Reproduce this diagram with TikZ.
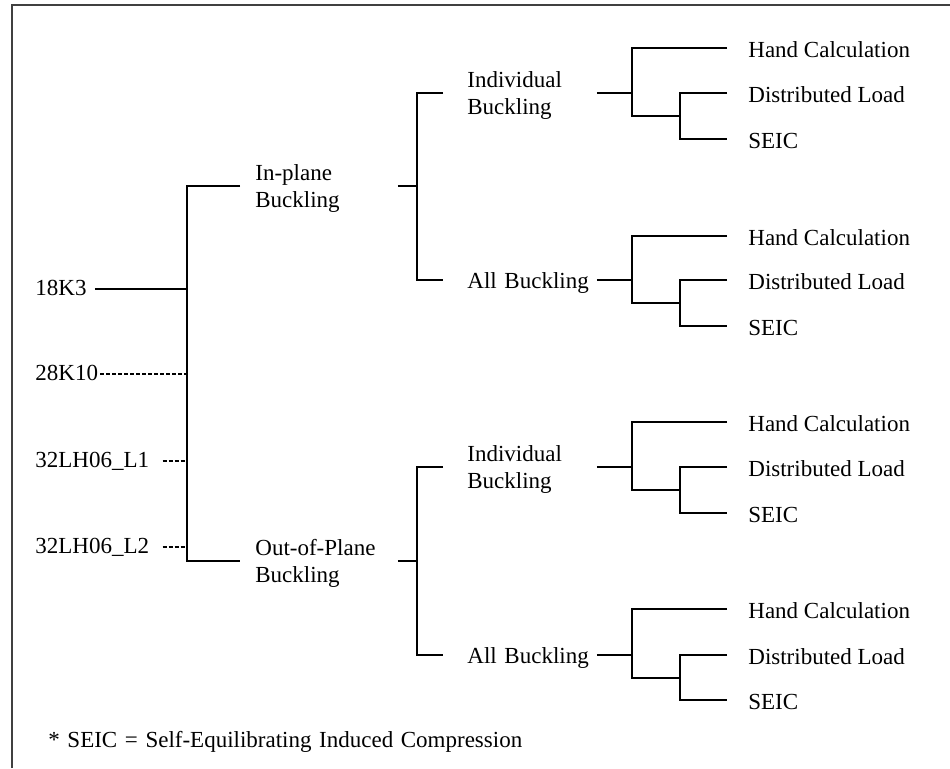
\documentclass[tikz,border=0pt]{standalone}
\usepackage{fontspec}
\setmainfont{Liberation Serif}
\usepackage{tikz}
\usetikzlibrary{positioning}
\newcommand{\widespaces}{\spaceskip 3.8pt plus 1pt minus 1pt\relax}

\begin{document}
\begin{tikzpicture}[
    x=0.5pt, y=-0.5pt,
    key_label/.style={
      anchor=west, inner sep=0pt, font=\fontsize{11.5}{14}\selectfont,
      text height=8pt, text depth=2pt
    },
    branch1/.style={
      anchor=west, inner sep=0pt, font=\fontsize{11.5}{13.5}\selectfont,
      align=left, text width=71pt,
      execute at begin node={\rule{0pt}{10.5pt}}
    },
    branch2/.style={
      branch1, text width=64.5pt
    },
    leaf/.style={
      key_label, text height=9.5pt, text depth=0.5pt
    },
    tree_line/.style={
      line width=0.7pt
    },
    dash_line/.style={
      line width=0.7pt, dash pattern=on 2pt off 1pt
    }
  ]
  \useasboundingbox (0,0) rectangle (950,768);

  % --- frame (only left and top edges show) ---
  \draw[line width=0.8pt, black!75] (12,768) -- (12,5) -- (950,5);

  % --- Joists ---
  \node[key_label] (k3)  at (35,289) {18K3};
  \node[key_label] (k10) at (35,374) {28K10};
  \node[key_label] (l1)  at (35,461) {32LH06\_L1};
  \node[key_label] (l2)  at (35,547) {32LH06\_L2};
  \coordinate (rb) at (187,374);

  \draw[tree_line] ([xshift=4pt]k3.east) -- (k3.east -| rb);
  \draw[dash_line] ([xshift=1pt]k10.east) -- (k10.east -| rb);
  \draw[dash_line] ([xshift=6.5pt]l1.east) -- (l1.east -| rb);
  \draw[dash_line] ([xshift=6.5pt]l2.east) -- (l2.east -| rb);

  % --- Buckling mode ---
  \node[branch1] (inp) at (255,186) {In-plane\\Buckling};
  \node[branch1] (oop) at (255,561) {Out-of-Plane\\Buckling};

  \draw[tree_line] ([xshift=-7.5pt]inp.west) -| (rb) |- ([xshift=-7.5pt]oop.west);

  % --- Buckling type ---
  \node[branch2] (ib1) at (467,93)  {Individual\\Buckling};
  \node[branch2] (ab1) at (467,280) {All Buckling};
  \node[branch2] (ib2) at (467,467) {Individual\\Buckling};
  \node[branch2] (ab2) at (467,655) {All Buckling};

  \draw[tree_line] (inp.east) -- ([xshift=9.5pt]inp.east);
  \draw[tree_line] ([xshift=-12pt]ib1.west) -| ([xshift=9.5pt]inp.east)
    |- ([xshift=-12pt]ab1.west);
  \draw[tree_line] (oop.east) -- ([xshift=9.5pt]oop.east);
  \draw[tree_line] ([xshift=-12pt]ib2.west) -| ([xshift=9.5pt]oop.east)
    |- ([xshift=-12pt]ab2.west);

  % --- Methods: In-plane, Individual ---
  \node[leaf] (hc1) at (748,48)  {Hand Calculation};
  \node[leaf] (dl1) at (748,93)  {Distributed Load};
  \node[leaf] (se1) at (748,139) {SEIC};
  \coordinate (sj1) at (680,116);
  \draw[tree_line] (ib1.east) -- ([xshift=17.5pt]ib1.east);
  \draw[tree_line] ([xshift=-10.5pt]hc1.west) -| ([xshift=17.5pt]ib1.east) |- (sj1);
  \draw[tree_line] ([xshift=-10.5pt]dl1.west) -| (sj1) |- ([xshift=-10.5pt]se1.west);

  % --- Methods: In-plane, All ---
  \node[leaf] (hc2) at (748,236) {Hand Calculation};
  \node[leaf] (dl2) at (748,280) {Distributed Load};
  \node[leaf] (se2) at (748,326) {SEIC};
  \coordinate (sj2) at (680,303);
  \draw[tree_line] (ab1.east) -- ([xshift=17.5pt]ab1.east);
  \draw[tree_line] ([xshift=-10.5pt]hc2.west) -| ([xshift=17.5pt]ab1.east) |- (sj2);
  \draw[tree_line] ([xshift=-10.5pt]dl2.west) -| (sj2) |- ([xshift=-10.5pt]se2.west);

  % --- Methods: Out-of-plane, Individual ---
  \node[leaf] (hc3) at (748,422) {Hand Calculation};
  \node[leaf] (dl3) at (748,467) {Distributed Load};
  \node[leaf] (se3) at (748,513) {SEIC};
  \coordinate (sj3) at (680,490);
  \draw[tree_line] (ib2.east) -- ([xshift=17.5pt]ib2.east);
  \draw[tree_line] ([xshift=-10.5pt]hc3.west) -| ([xshift=17.5pt]ib2.east) |- (sj3);
  \draw[tree_line] ([xshift=-10.5pt]dl3.west) -| (sj3) |- ([xshift=-10.5pt]se3.west);

  % --- Methods: Out-of-plane, All ---
  \node[leaf] (hc4) at (748,609) {Hand Calculation};
  \node[leaf] (dl4) at (748,655) {Distributed Load};
  \node[leaf] (se4) at (748,700) {SEIC};
  \coordinate (sj4) at (680,678);
  \draw[tree_line] (ab2.east) -- ([xshift=17.5pt]ab2.east);
  \draw[tree_line] ([xshift=-10.5pt]hc4.west) -| ([xshift=17.5pt]ab2.east) |- (sj4);
  \draw[tree_line] ([xshift=-10.5pt]dl4.west) -| (sj4) |- ([xshift=-10.5pt]se4.west);

  % --- footnote ---
  \node[key_label] (note) at (48,741) {\widespaces * SEIC = Self-Equilibrating Induced Compression};
\end{tikzpicture}
\end{document}
